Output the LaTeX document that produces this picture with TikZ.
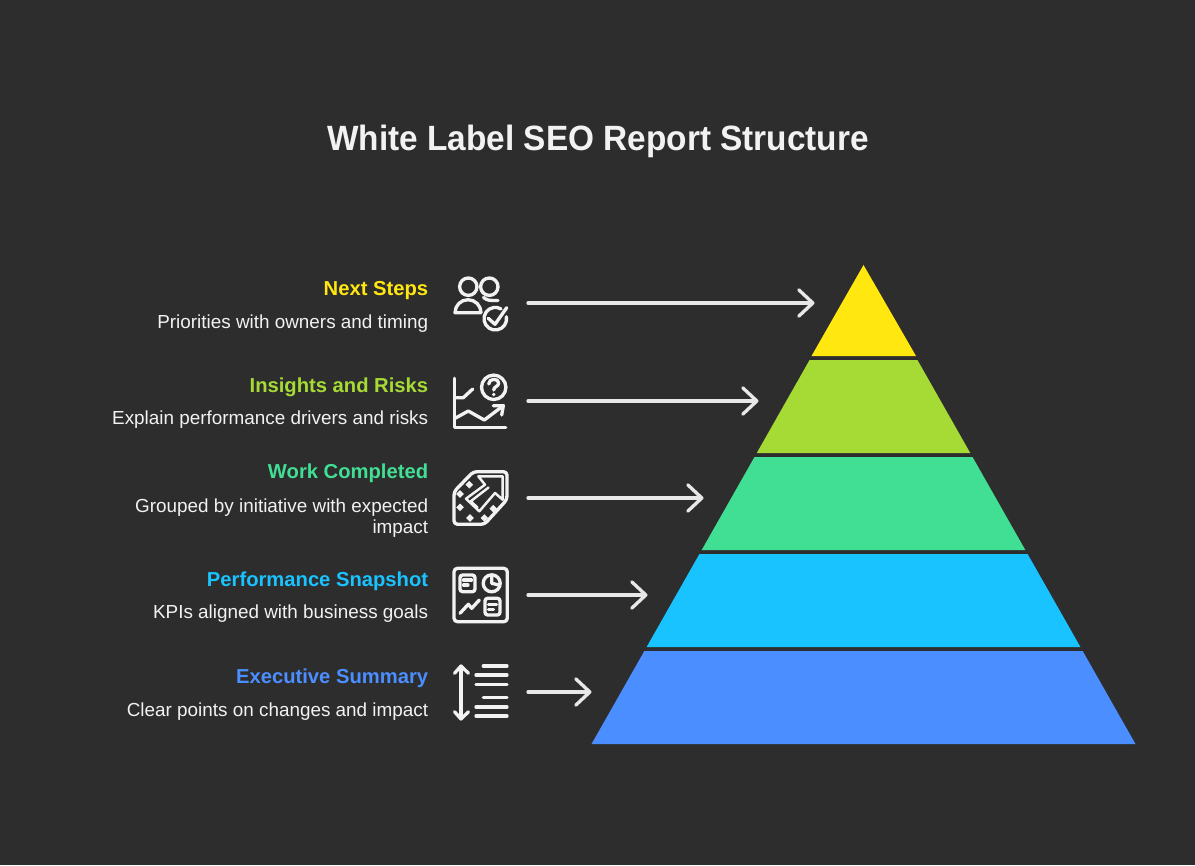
\documentclass[tikz,border=0pt]{standalone}
\usepackage{fontspec}
\setmainfont{Liberation Sans}
\newfontfamily\titlefont[FakeStretch=0.95]{Liberation Sans}
\usetikzlibrary{arrows.meta}
\definecolor{bgcolor}{HTML}{2D2D2D}
\definecolor{inkcolor}{HTML}{F2F2F2}
\definecolor{arrowcolor}{HTML}{E8E8E8}
\definecolor{nextcolor}{HTML}{FFE70F}
\definecolor{insightcolor}{HTML}{A6DB35}
\definecolor{workcolor}{HTML}{41DF94}
\definecolor{perfcolor}{HTML}{19C3FF}
\definecolor{execcolor}{HTML}{4B8EFF}
\tikzset{
  titletext/.style={font=\titlefont\fontsize{20}{24}\bfseries\selectfont, text=inkcolor, inner sep=0pt},
  headtext/.style={font=\fontsize{11.5}{14}\bfseries\selectfont, anchor=base east, inner sep=0pt},
  bodytext/.style={font=\fontsize{10.75}{12.3}\selectfont, text=inkcolor, anchor=north east, align=right, inner sep=0pt, execute at begin node=\strut},
  flowarrow/.style={draw=arrowcolor, line width=1.9pt, line cap=round, -{Straight Barb[round,length=8pt,width=15pt]}},
  iconline/.style={draw=inkcolor, line width=1.9pt, line cap=round, line join=round},
  thinline/.style={iconline, line width=1.4pt}
}

\begin{document}
\begin{tikzpicture}[x=0.02cm,y=-0.02cm]

% Background
\fill[bgcolor] (0,0) rectangle (1195,865);

% Title
\node[titletext] (title) at (598,141) {White Label SEO Report Structure};

% Pyramid layers
\fill[nextcolor] (863.5,265) -- (916,356) -- (811.5,356) -- cycle;
\foreach \col/\top/\bot in {insightcolor/360/453,workcolor/457/550,perfcolor/554/647,execcolor/651/744} {
  \fill[\col]
  ({863.5-0.5678*(\top-265)},\top) -- ({863.5+0.5678*(\top-265)},\top)
  -- ({863.5+0.5678*(\bot-265)},\bot) -- ({863.5-0.5678*(\bot-265)},\bot) -- cycle;
}

% Labels
\foreach \name/\y/\gap/\col/\head/\body in {
  next/295/17.6/nextcolor/Next Steps/Priorities with owners and timing,
  insight/392/16.8/insightcolor/Insights and Risks/Explain performance drivers and risks,
  work/478/20/workcolor/Work Completed/{Grouped by initiative with expected\\impact},
  perf/586/16.8/perfcolor/Performance Snapshot/KPIs aligned with business goals,
  exec/683/17.6/execcolor/Executive Summary/Clear points on changes and impact} {
  \node[headtext, text=\col] (head\name) at (428.5,\y) {\head};
  \node[bodytext] (body\name) at (428.5,\y+\gap) {\body};
}

% Arrows
\foreach \name/\y/\x in {next/303/814.5,insight/401/758.5,work/498/703.5,perf/595/647.5,exec/692/591.5} {
  \coordinate (from\name) at (528,\y);
  \coordinate (to\name) at (\x,\y);
  \draw[flowarrow] (from\name) -- (to\name);
}

% Icon: people with check
\draw[iconline] (468.3,286.7) circle[radius=8.7];
\draw[iconline] (489.3,286.7) circle[radius=8.7];
\draw[iconline] (481,312.7) -- (455,312.7) arc[start angle=180,end angle=360,radius=13];
\draw[iconline] (483.5,297.5) .. controls (488,300.5) .. (498,300.5);
\draw[iconline] (495.3,318.7) ++(-10:11.3) arc[start angle=-10,end angle=300,radius=11.3];
\draw[iconline] (488.3,318.3) -- (495,324.3) -- (506.7,307.7);

% Icon: chart with question
\draw[iconline] (454.7,378.3) -- (454.7,427.3) -- (505.7,427.3);
\draw[iconline] (454.7,397.7) -- (463.3,397.7) -- (472.7,389);
\draw[iconline] (493.7,387.3) circle[radius=12.2];
\draw[iconline] (488.7,384) .. controls (488.7,378) and (498.7,378) .. (498.7,383) .. controls (498.7,386.5) and (493.7,386.5) .. (493.7,390);
\fill[inkcolor] (493.7,394.5) circle[radius=1.9];
\draw[iconline] (454.7,418.5) -- (468.3,411) -- (484.3,420) -- (503.3,405.7);
\draw[iconline] (493.3,405.7) -- (503.3,405.7) -- (501.7,415);

% Icon: arrow on tag
\draw[iconline, rounded corners=2pt] (454,491.7) -- (473.3,471.7) -- (507,471.7) -- (507,499.5) -- (484.5,524.3) -- (454,524.3) -- cycle;
\draw[thinline] (478.3,476.3) -- (502.7,476.3) -- (502.7,499.7) -- (495,493) -- (479.3,511.3) -- (466,498.7) -- (485,484.7) -- cycle;
\draw[thinline] (488.5,487.5) -- (470.7,501.3) -- (477.5,507.5);
\foreach \px/\py in {469.3/484.7,460/494,460/507.3,470/518,484.3/518,493.3/508.7}
  \fill[inkcolor] (\px,\py-3.8) -- (\px+3.8,\py) -- (\px,\py+3.8) -- (\px-3.8,\py) -- cycle;

% Icon: dashboard
\draw[iconline, rounded corners=2pt] (454,568.3) rectangle (507.3,621.7);
\draw[iconline, rounded corners=1.5pt] (460,575) rectangle (475,591.7);
\draw[iconline] (463.5,580) -- (471.5,580);
\draw[iconline] (463.5,585) -- (468,585);
\draw[iconline] (491.7,583.3) circle[radius=8.5];
\draw[iconline] (491.7,575.5) -- (491.7,583.3) -- (499,585);
\draw[iconline] (460,613.3) -- (468.3,604.3) -- (471.7,608.3) -- (479.3,600);
\draw[iconline, rounded corners=1.5pt] (485,598.3) rectangle (500,615);
\draw[iconline] (488.5,604.3) -- (496.5,604.3);
\draw[iconline] (488.5,609.3) -- (493.5,609.3);

% Icon: sort lines
\draw[iconline] (461,667) -- (461,718);
\draw[iconline] (454.5,673.3) -- (461,666) -- (468.5,673.3);
\draw[iconline] (454.5,711.7) -- (461,719) -- (468.5,711.7);
\foreach \y/\x in {666/483.3,675/476,684.3/476,697.7/483.3,707/476,716/476}
  \draw[iconline] (\x,\y) -- (507,\y);

\end{tikzpicture}
\end{document}
